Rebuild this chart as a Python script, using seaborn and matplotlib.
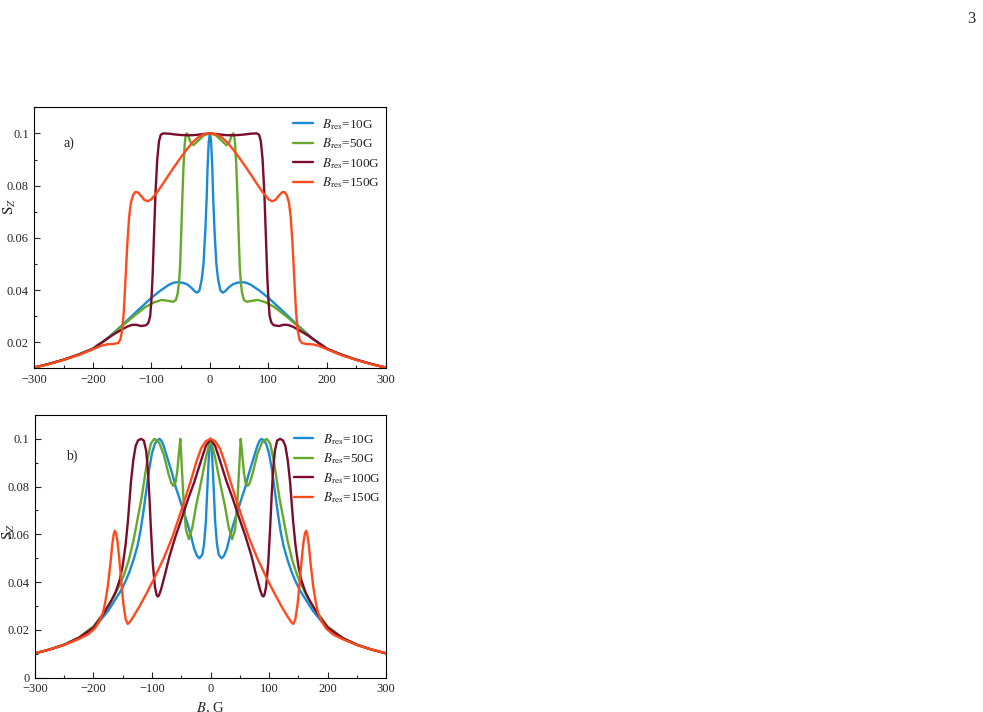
import numpy as np
import pandas as pd
import matplotlib
matplotlib.use("Agg")
import matplotlib.pyplot as plt
from matplotlib.ticker import MultipleLocator, FuncFormatter
import seaborn as sns

# --- data (right half, B >= 0; curves are symmetric in B) ---
labels = [r'$B_{\rm res}$=10G', r'$B_{\rm res}$=50G', r'$B_{\rm res}$=100G', r'$B_{\rm res}$=150G']
colors = ['#1a8ad4', '#66a82c', '#7a0d2c', '#ff4a1c']

# panel a)
a10_x = [0, 2, 4, 5.6, 8, 11, 14, 18, 22, 26, 30, 35, 40, 47, 55, 62, 70, 85, 100, 125, 150, 175, 200, 225, 250, 275, 300]
a10_y = [0.1, 0.097, 0.087, 0.075, 0.062, 0.050, 0.044, 0.0398, 0.039, 0.0395, 0.0405, 0.0415, 0.0423, 0.0428, 0.043, 0.0428, 0.042,
         0.0397, 0.037, 0.0318, 0.0265, 0.0215, 0.0175, 0.0152, 0.0133, 0.0117, 0.0103]
a50_x = [0, 10, 20, 28, 33, 36, 38.5, 40, 41.5, 43, 45, 47, 49, 51, 53, 55, 58, 63, 70, 82, 95, 110, 130, 150, 175, 200, 225, 250, 275, 300]
a50_y = [0.1, 0.0993, 0.0972, 0.0955, 0.0965, 0.0985, 0.0998, 0.1, 0.099, 0.096, 0.088, 0.076, 0.062, 0.049, 0.0425, 0.0388, 0.0362,
         0.0355, 0.0358, 0.0362, 0.0353, 0.0335, 0.030, 0.0262, 0.0214, 0.0175, 0.0152, 0.0133, 0.0117, 0.0103]
a100_x = [0, 10, 20, 30, 40, 50, 60, 70, 80, 84, 87, 90, 93, 96, 98, 100, 102, 105, 109, 118, 126, 134, 142, 150, 160, 170, 185, 200,
          225, 250, 275, 300]
a100_y = [0.1, 0.0998, 0.0995, 0.0993, 0.0993, 0.0994, 0.0996, 0.0999, 0.1, 0.0995, 0.097, 0.090, 0.077, 0.058, 0.045, 0.036, 0.030,
          0.0275, 0.0265, 0.0262, 0.0267, 0.0266, 0.0259, 0.0249, 0.0236, 0.0222, 0.0198, 0.0175, 0.0152, 0.0133, 0.0117, 0.0103]
a150_x = [0, 10, 20, 30, 40, 50, 60, 70, 80, 90, 100, 106, 112, 118, 123, 127, 131, 135, 138, 141, 144, 147, 150, 153, 157, 165, 175,
          185, 200, 225, 250, 275, 300]
a150_y = [0.1, 0.0997, 0.0985, 0.0965, 0.0937, 0.0907, 0.0875, 0.0842, 0.0808, 0.0775, 0.0748, 0.074, 0.0745, 0.0762, 0.0774, 0.0776,
          0.0765, 0.0735, 0.068, 0.058, 0.045, 0.032, 0.0245, 0.021, 0.0197, 0.0193, 0.0192, 0.0187, 0.0173, 0.015, 0.0132, 0.0116, 0.0103]

# panel b)
b10_x = [0, 2, 4, 6, 8, 11, 14, 19, 23, 28, 33, 40, 47, 53, 59, 65, 70, 75, 80, 84, 87.5, 91, 95, 100, 105, 110, 115, 120, 125, 132,
         139, 146, 153, 162, 175, 200, 225, 250, 275, 300]
b10_y = [0.1, 0.096, 0.087, 0.076, 0.065, 0.056, 0.0515, 0.050, 0.051, 0.054, 0.059, 0.065, 0.0703, 0.075, 0.0794, 0.085, 0.089, 0.093,
         0.097, 0.0993, 0.1, 0.0993, 0.098, 0.094, 0.087, 0.078, 0.069, 0.061, 0.055, 0.049, 0.044, 0.040, 0.0365, 0.033, 0.028, 0.0205,
         0.0166, 0.0138, 0.0118, 0.0102]
b50_x = [0, 8, 16, 25, 31, 37, 42, 46, 49, 51.6, 54, 57, 60, 63.5, 67, 72, 80, 88, 96, 102, 108, 113, 118, 125, 132, 140, 148, 155,
         165, 180, 200, 225, 250, 275, 300]
b50_y = [0.1, 0.092, 0.082, 0.0715, 0.063, 0.058, 0.062, 0.074, 0.088, 0.1, 0.094, 0.086, 0.0815, 0.0803, 0.0815, 0.0855, 0.0935,
         0.0985, 0.1, 0.098, 0.091, 0.083, 0.075, 0.066, 0.057, 0.049, 0.043, 0.039, 0.034, 0.028, 0.0215, 0.0168, 0.0138, 0.0118, 0.0102]
b100_x = [0, 8, 16, 27.6, 38, 47.5, 60, 70, 78, 84.5, 88, 90, 92, 95, 98.7, 102, 104.5, 107, 110, 114, 119, 124, 128, 132, 136, 141,
          145, 150, 155, 162, 170, 185, 200, 225, 250, 275, 300]
b100_y = [0.1, 0.097, 0.091, 0.082, 0.075, 0.068, 0.059, 0.051, 0.043, 0.037, 0.0345, 0.034, 0.0345, 0.038, 0.048, 0.063, 0.076, 0.087,
          0.095, 0.0993, 0.1, 0.0993, 0.097, 0.091, 0.082, 0.066, 0.056, 0.047, 0.041, 0.036, 0.032, 0.026, 0.021, 0.0167, 0.0138,
          0.0118, 0.0102]
b150_x = [0, 8, 16, 24, 33, 42, 50, 65, 80, 96, 110, 121.5, 132, 138, 141.5, 145, 149, 152.8, 156, 159, 161.5, 163.5, 165.5, 168, 171,
          175.7, 180, 184, 190, 198, 210, 225, 250, 275, 300]
b150_y = [0.1, 0.099, 0.096, 0.0905, 0.083, 0.076, 0.070, 0.059, 0.050, 0.0417, 0.035, 0.0298, 0.0255, 0.0233, 0.0225, 0.0245, 0.031,
          0.041, 0.050, 0.057, 0.0605, 0.0615, 0.060, 0.0555, 0.048, 0.038, 0.0315, 0.027, 0.0235, 0.0205, 0.018, 0.0162, 0.0137,
          0.0118, 0.0102]


def mirror(xs, ys, label):
    # the measured half is reflected about B = 0
    x = [-v for v in xs[:0:-1]] + list(xs)
    y = list(ys[:0:-1]) + list(ys)
    return pd.DataFrame({'B': x, 'S': y, 'curve': label})


df_a = pd.concat([mirror(a10_x, a10_y, labels[0]), mirror(a50_x, a50_y, labels[1]),
                  mirror(a100_x, a100_y, labels[2]), mirror(a150_x, a150_y, labels[3])])
df_b = pd.concat([mirror(b10_x, b10_y, labels[0]), mirror(b50_x, b50_y, labels[1]),
                  mirror(b100_x, b100_y, labels[2]), mirror(b150_x, b150_y, labels[3])])

sns.set_style("ticks")
plt.rcParams['font.family'] = ['Liberation Serif', 'DejaVu Serif']
plt.rcParams['mathtext.fontset'] = 'stix'
plt.rcParams['axes.linewidth'] = 0.8

fig = plt.figure(figsize=(9.83, 7.12), dpi=100)
ax_a = fig.add_axes([0.0349, 0.4827, 0.3573, 0.3666])
ax_b = fig.add_axes([0.0356, 0.0482, 0.3571, 0.369])

minus_fmt = FuncFormatter(lambda v, p: ('%g' % v).replace('-', '\u2212'))

for ax, df, ylo, tag, tagpos, legy, ylab_xy in [
        (ax_a, df_a, 0.01, 'a)', (0.082, 0.863), 0.963, (-0.046, 0.62)),
        (ax_b, df_b, 0.0, 'b)', (0.088, 0.844), 0.935, (-0.051, 0.555))]:
    sns.lineplot(data=df, x='B', y='S', hue='curve', hue_order=labels, palette=colors,
                 estimator=None, sort=False, linewidth=1.7, ax=ax)
    ax.set_xlim(-300, 300)
    ax.set_ylim(ylo, 0.11)
    ax.xaxis.set_major_locator(MultipleLocator(100))
    ax.xaxis.set_minor_locator(MultipleLocator(50))
    ax.yaxis.set_major_locator(MultipleLocator(0.02))
    ax.yaxis.set_minor_locator(MultipleLocator(0.01))
    ax.xaxis.set_major_formatter(minus_fmt)
    ax.yaxis.set_major_formatter(minus_fmt)
    ax.tick_params(which='both', direction='in', labelsize=9, top=False, right=False, width=0.8)
    ax.tick_params(which='major', length=4.5, pad=4)
    ax.tick_params(which='minor', length=2.5)
    for s in ax.spines.values():
        s.set_visible(True)
        s.set_color('black')
    ax.set_ylabel(r'$\mathrm{S}_Z$', fontsize=11)
    ax.yaxis.set_label_coords(*ylab_xy)
    ax.text(tagpos[0], tagpos[1], tag, transform=ax.transAxes, fontsize=10, va='center')
    ax.legend(loc='upper left', bbox_to_anchor=(0.737, legy), frameon=False, fontsize=9.5,
              handlelength=1.5, handletextpad=0.7, labelspacing=0.35, borderpad=0, borderaxespad=0)

ax_a.set_xlabel('')
ax_b.set_xlabel(r'$B$, G', fontsize=10.5, labelpad=4)

fig.text(0.992, 0.985, '3', ha='right', va='top', fontsize=12)

fig.savefig('out.png', dpi=100)
